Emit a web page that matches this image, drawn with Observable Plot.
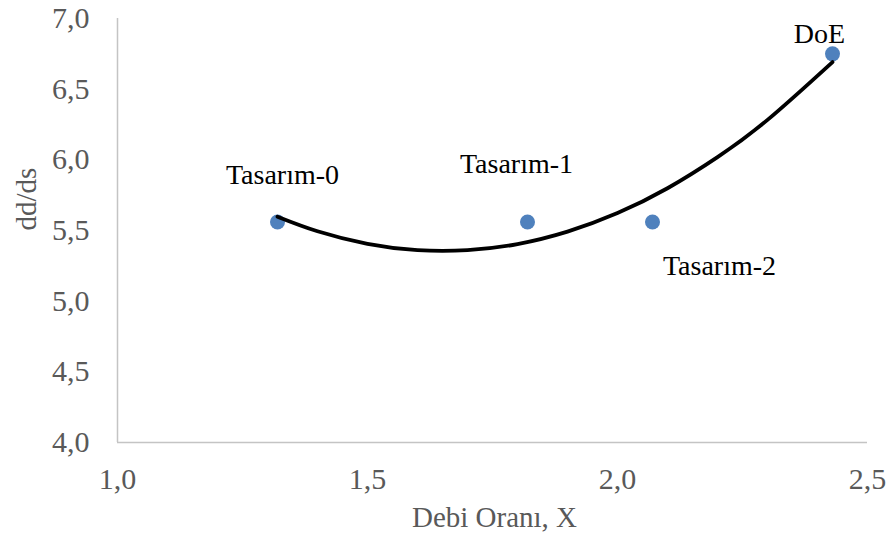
<!DOCTYPE html>
<html>
<head>
<meta charset="utf-8">
<script src="https://cdn.jsdelivr.net/npm/d3@7"></script>
<script src="https://cdn.jsdelivr.net/npm/@observablehq/plot@0.6"></script>
<style>
  html, body { margin: 0; padding: 0; background: #ffffff; }
</style>
</head>
<body>
<div id="chart"></div>
<script>
// ---- data ----
const pointLabels = ["Tasarım-0", "Tasarım-1", "Tasarım-2", "DoE"];
const pointX = [1.32, 1.82, 2.07, 2.43];
const pointY = [5.56, 5.56, 5.56, 6.75];

// polynomial (order 2) trendline
const curveX = [1.32, 1.4, 1.5, 1.6, 1.7, 1.8, 1.9, 2.0, 2.1, 2.2, 2.3, 2.43];
const curveY = [5.598, 5.495, 5.406, 5.361, 5.361, 5.404, 5.492, 5.623, 5.799, 6.019, 6.283, 6.692];

const xDomain = [1.0, 2.5];
const yDomain = [4.0, 7.0];
const xTicks = [1.0, 1.5, 2.0, 2.5];
const yTicks = [4.0, 4.5, 5.0, 5.5, 6.0, 6.5, 7.0];
const xTitle = "Debi Oranı, X";
const yTitle = "dd/ds";

// ---- tables ----
const points = pointLabels.map((label, i) => ({label, x: pointX[i], y: pointY[i]}));
const curve = curveX.map((x, i) => ({x, y: curveY[i]}));

const fmt = d => d.toFixed(1).replace(".", ",");
const font = "Liberation Serif";

const labelOffsets = {
  "Tasarım-0": {dx: 5, dy: -47},
  "Tasarım-1": {dx: -11, dy: -58},
  "Tasarım-2": {dx: 67, dy: 44},
  "DoE": {dx: -13, dy: -20}
};

const labelMarks = pointLabels.map(name =>
  Plot.text(points.filter(d => d.label === name), {
    x: "x", y: "y", text: "label",
    dx: labelOffsets[name].dx, dy: labelOffsets[name].dy,
    fontSize: 28, fill: "#000000", fontFamily: font
  })
);

const chart = Plot.plot({
  width: 889,
  height: 543,
  marginLeft: 117,
  marginRight: 22,
  marginTop: 18,
  marginBottom: 101,
  style: {background: "#ffffff", overflow: "visible"},
  x: {domain: xDomain},
  y: {domain: yDomain},
  marks: [
    Plot.ruleY([yDomain[0]], {stroke: "#c4c4c4", strokeWidth: 1.5}),
    Plot.ruleX([xDomain[0]], {stroke: "#c4c4c4", strokeWidth: 1.5}),
    Plot.axisX({ticks: xTicks, tickFormat: fmt, tickSize: 0, tickPadding: 25, fontSize: 30, fill: "#595959", fontFamily: font, label: null}),
    Plot.axisY({ticks: yTicks, tickFormat: fmt, tickSize: 0, tickPadding: 28, fontSize: 30, fill: "#595959", fontFamily: font, label: null}),
    Plot.text([xTitle], {frameAnchor: "bottom", dx: 2, dy: 84, fontSize: 29, fill: "#595959", fontFamily: font}),
    Plot.text([yTitle], {frameAnchor: "left", rotate: -90, dx: -91, fontSize: 29, fill: "#595959", fontFamily: font}),
    Plot.dot(points, {x: "x", y: "y", r: 7.5, fill: "#4f81bd", stroke: "none"}),
    Plot.line(curve, {x: "x", y: "y", curve: "natural", stroke: "#000000", strokeWidth: 3.8}),
    ...labelMarks
  ]
});

document.getElementById("chart").appendChild(chart);
</script>
</body>
</html>
